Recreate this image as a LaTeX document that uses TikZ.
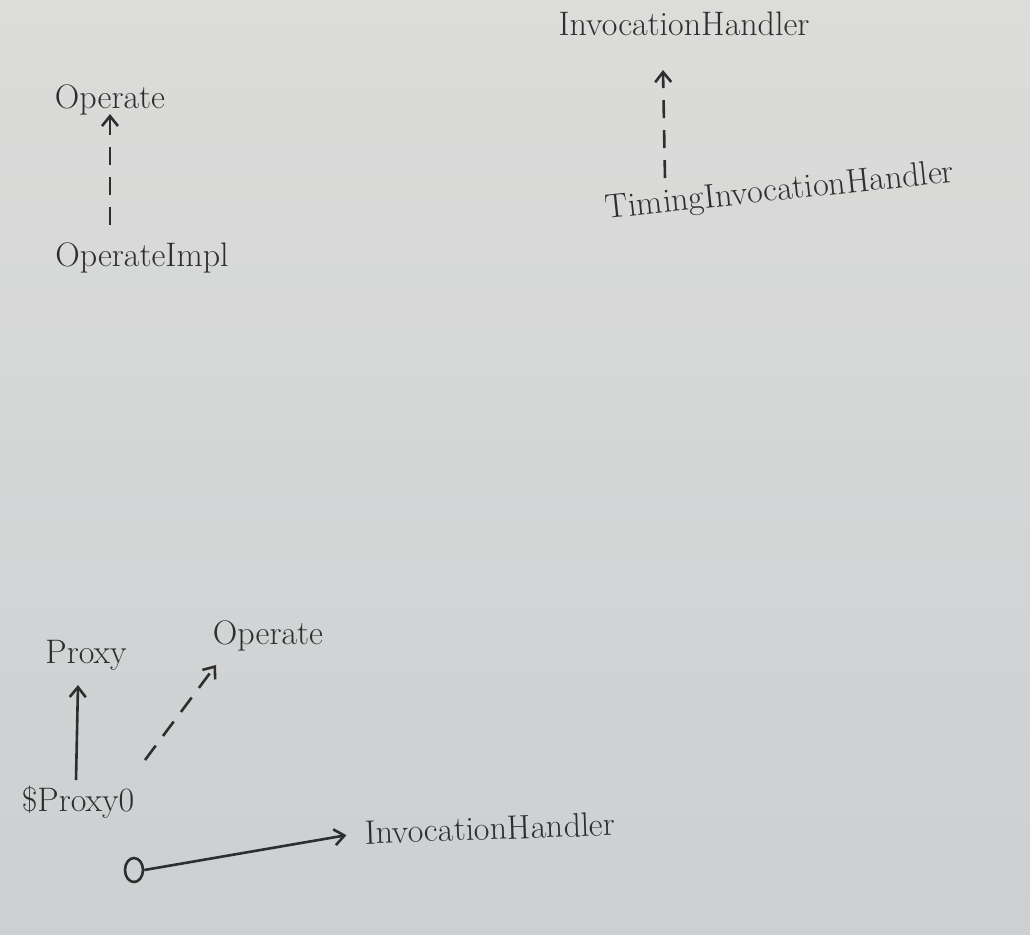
\documentclass[tikz,border=0pt]{standalone}
\usetikzlibrary{arrows.meta,shapes.geometric}
\definecolor{ink}{HTML}{2E2E2E}
\definecolor{papertop}{HTML}{DCDCDA}
\definecolor{paperbot}{HTML}{CCD0D2}
\begin{document}
\begin{tikzpicture}[x=0.5pt,y=-0.5pt,
  lbl/.style={text=ink,font=\fontsize{17}{20}\selectfont,inner sep=1pt},
  conn/.style={draw=ink,line width=1.3pt,-{Straight Barb[length=5pt,width=8pt]}},
  real/.style={conn,dash pattern=on 9pt off 6pt},
  dot/.style={draw=ink,line width=1.3pt,ellipse,minimum width=9pt,minimum height=12pt,inner sep=0pt}]
\shade[top color=papertop,bottom color=paperbot] (0,0) rectangle (1030,934);
\useasboundingbox (0,0) rectangle (1030,934);
% top left
\node[lbl] (op1) at (110,100) {Operate};
\node[lbl] (opimpl) at (142,258) {OperateImpl};
\draw[real] (110,225) -- (110,114);
% top right
\node[lbl] (ih1) at (684,24) {InvocationHandler};
\node[lbl,rotate=6] (tih) at (780,192) {TimingInvocationHandler};
\draw[real] (665,178) -- (663,70);
% bottom
\node[lbl] (proxy) at (86,655) {Proxy};
\node[lbl] (op2) at (268,636) {Operate};
\node[lbl] (p0) at (78,802) {\$Proxy0};
\node[dot] (o) at (134,870) {};
\node[lbl,rotate=2] (ih2) at (490,828) {InvocationHandler};
\draw[conn] (76,780) -- (78,685);
\draw[real] (145,760) -- (216,665);
\draw[conn,shorten >=8pt] (o.east) -- (ih2.west);
\end{tikzpicture}
\end{document}
